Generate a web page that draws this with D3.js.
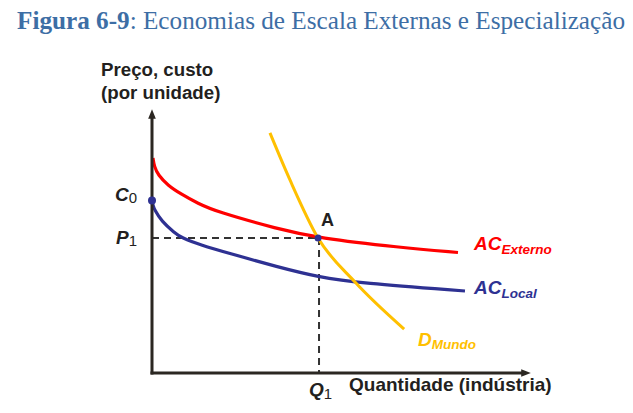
<!DOCTYPE html>
<html>
<head>
<meta charset="utf-8">
<script src="https://cdn.jsdelivr.net/npm/d3@7"></script>
<style>
  html, body { margin: 0; padding: 0; background: #fff; }
  svg { display: block; }
</style>
</head>
<body>
<script>
// ---- Data (abstract units: quantity 0..100, price 0..100) ----
const acExternoQ = [0.26, 0.6, 1.59, 4.23, 7.67, 12.17, 16.93, 33.33, 43.92, 65.61, 80.95];
const acExternoP = [81.75, 78.6, 75.29, 71.29, 68.06, 64.45, 61.41, 54.75, 51.33, 47.72, 45.82];
const acLocalQ   = [0, 0.3, 0.71, 2.46, 6.01, 7.67, 13.0, 20.11, 33.33, 43.92, 55.03, 82.80];
const acLocalP   = [65.59, 63.6, 61.98, 57.79, 53.23, 51.52, 48.6, 45.63, 40.30, 36.50, 34.22, 31.18];
const dMundoQ    = [31.2, 36.5, 43.92, 53.7, 66.7];
const dMundoP    = [91.3, 73.4, 51.33, 34.6, 16.7];
const pointQ1 = 43.92, pointP1 = 51.33, pointC0 = 65.59;

const titleBold = "Figura 6-9";
const titleRest = ": Economias de Escala Externas e Especialização";
const yLabel = ["Preço, custo", "(por unidade)"];
const xLabel = "Quantidade (indústria)";

const W = 633, H = 413;
const svg = d3.select("body").append("svg").attr("width", W).attr("height", H);

const x = d3.scaleLinear().domain([0, 100]).range([152, 530]);
const y = d3.scaleLinear().domain([0, 100]).range([373, 110]);

const sans = "'Liberation Sans', Arial, sans-serif";
const axisColor = "#2b2722";
const red = "#ff0000", blue = "#2e3192", yellow = "#ffc000";

// arrow marker
const defs = svg.append("defs");
defs.append("marker").attr("id", "arr").attr("viewBox", "0 0 10 10")
  .attr("refX", 5).attr("refY", 5).attr("markerWidth", 3.2).attr("markerHeight", 3.2)
  .attr("orient", "auto")
  .append("path").attr("d", "M0,1 L10,5 L0,9 Z").attr("fill", axisColor);

// title
const title = svg.append("text").attr("x", 17).attr("y", 29)
  .attr("font-family", "'Liberation Serif', 'Times New Roman', serif")
  .attr("font-size", 25).attr("fill", "#3d6ea5");
title.append("tspan").attr("font-weight", "bold").text(titleBold);
title.append("tspan").text(titleRest);
title.attr("textLength", 608).attr("lengthAdjust", "spacingAndGlyphs");

// dashed guides
const dash = svg.append("g").attr("stroke", "#333").attr("stroke-width", 2)
  .attr("stroke-dasharray", "7,5").attr("fill", "none");
dash.append("line").attr("x1", x(0)).attr("x2", x(pointQ1)).attr("y1", y(pointP1)).attr("y2", y(pointP1));
dash.append("line").attr("x1", x(pointQ1) + 1).attr("x2", x(pointQ1) + 1).attr("y1", y(pointP1)).attr("y2", y(0));

// curves
const smooth = d3.line().x(d => x(d[0])).y(d => y(d[1])).curve(d3.curveBasis);
const mono = d3.line().x(d => x(d[0])).y(d => y(d[1])).curve(d3.curveMonotoneX);
function series(qs, ps) { return qs.map((q, i) => [q, ps[i]]); }
svg.append("path").datum(series(acExternoQ, acExternoP)).attr("d", smooth)
  .attr("fill", "none").attr("stroke", red).attr("stroke-width", 3.2);
svg.append("path").datum(series(acLocalQ, acLocalP)).attr("d", smooth)
  .attr("fill", "none").attr("stroke", blue).attr("stroke-width", 3.2);
svg.append("path").datum(series(dMundoQ, dMundoP)).attr("d", mono)
  .attr("fill", "none").attr("stroke", yellow).attr("stroke-width", 3);

// axes
const yAxis = svg.append("g").attr("transform", `translate(${x(0)},0)`)
  .call(d3.axisLeft(y).tickValues([]).tickSizeOuter(0));
const xAxis = svg.append("g").attr("transform", `translate(0,${y(0)})`)
  .call(d3.axisBottom(x).tickValues([]).tickSizeOuter(0));
[yAxis, xAxis].forEach(g => g.select(".domain")
  .attr("stroke", axisColor).attr("stroke-width", 3).attr("marker-end", "url(#arr)"));
xAxis.select(".domain").attr("d", `M${x(0) - 1.5},0H${x(100) - 4}`);
yAxis.select(".domain").attr("d", `M0,${y(0) + 1.5}V${y(100) + 4}`);

// points
svg.append("circle").attr("cx", x(0)).attr("cy", y(pointC0)).attr("r", 4).attr("fill", blue);
svg.append("circle").attr("cx", x(pointQ1)).attr("cy", y(pointP1)).attr("r", 3.5).attr("fill", blue);

// labels
function subLabel(xp, yp, main, sub, color, size, subSize, mainItalic, subItalic, subDy) {
  const t = svg.append("text").attr("x", xp).attr("y", yp)
    .attr("font-family", sans).attr("font-weight", "bold").attr("fill", color);
  t.append("tspan").attr("font-size", size).attr("font-style", mainItalic ? "italic" : "normal").text(main);
  t.append("tspan").attr("font-size", subSize).attr("font-style", subItalic ? "italic" : "normal")
    .attr("font-weight", subItalic ? "bold" : "normal").attr("dy", subDy).text(sub);
  return t;
}
subLabel(115, y(pointC0) + 1, "C", "0", "#231f20", 19, 15, true, false, 2);
subLabel(116, y(pointP1) + 6, "P", "1", "#231f20", 19, 15, true, false, 2);
subLabel(x(pointQ1) - 9, 396, "Q", "1", "#231f20", 19, 15, true, false, 3);
svg.append("text").attr("x", x(pointQ1) + 3).attr("y", y(pointP1) - 12)
  .attr("font-family", sans).attr("font-weight", "bold").attr("font-size", 18)
  .attr("fill", "#231f20").text("A");

subLabel(474, 250, "AC", "Externo", red, 19, 13.5, true, true, 4);
subLabel(474, 294, "AC", "Local", blue, 19, 13.5, true, true, 4);
subLabel(418, 346, "D", "Mundo", yellow, 19, 13.5, true, true, 3);

// axis titles
svg.append("text").attr("x", 349).attr("y", 391).attr("font-family", sans)
  .attr("font-weight", "bold").attr("font-size", 19).attr("fill", "#231f20").text(xLabel);
yLabel.forEach((s, i) => svg.append("text").attr("x", 101).attr("y", 76 + i * 23)
  .attr("font-family", sans).attr("font-weight", "bold").attr("font-size", 18.7)
  .attr("fill", "#231f20").text(s));
</script>
</body>
</html>
